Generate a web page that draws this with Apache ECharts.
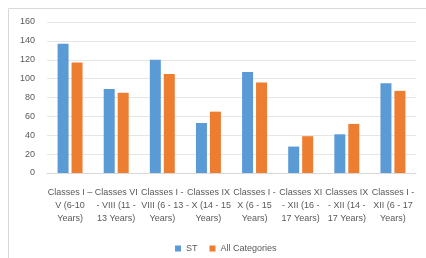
<!DOCTYPE html>
<html><head><meta charset="utf-8">
<script src="https://cdn.jsdelivr.net/npm/echarts@6/dist/echarts.min.js"></script>
<style>html,body{margin:0;padding:0;background:#fff}#c{width:426px;height:258px}</style>
</head><body><div id="c"></div>
<script>
const categories = [
  "Classes I –\nV (6-10\nYears)",
  "Classes VI\n- VIII (11 -\n13 Years)",
  "Classes I -\nVIII (6 - 13\nYears)",
  "Classes IX\n- X (14 - 15\nYears)",
  "Classes I -\nX (6 - 15\nYears)",
  "Classes XI\n- XII (16 -\n17 Years)",
  "Classes IX\n- XII (14 -\n17 Years)",
  "Classes I -\nXII (6 - 17\nYears)"
];
const stValues = [137, 89, 120, 53, 107, 28, 41, 95];
const allValues = [117, 85, 105, 65, 96, 39, 52, 87];
const seriesNames = ["ST", "All Categories"];

const chart = echarts.init(document.getElementById('c'), null, {renderer: 'canvas'});
const font = "Liberation Sans, Arial, sans-serif";
chart.setOption({
  animation: false,
  textStyle: {fontFamily: font},
  graphic: [{type: 'rect', shape: {x: 8.5, y: 8.5, width: 430, height: 260}, style: {fill: 'none', stroke: '#d9d9d9', lineWidth: 1}}],
  grid: {left: 47, right: 10, top: 22, bottom: 85},
  legend: {
    top: 239, left: 170, itemWidth: 6, itemHeight: 6, itemGap: 12,
    icon: 'rect',
    textStyle: {color: '#595959', fontSize: 9, fontFamily: font},
    data: seriesNames
  },
  xAxis: {
    type: 'category', data: categories,
    axisLine: {lineStyle: {color: '#d9d9d9'}},
    axisTick: {show: false},
    axisLabel: {color: '#595959', fontSize: 9, lineHeight: 13, margin: 13, interval: 0, fontFamily: font}
  },
  yAxis: {
    type: 'value', min: 0, max: 160, interval: 20,
    axisLine: {show: false}, axisTick: {show: false},
    splitLine: {lineStyle: {color: '#e6e6e6'}},
    axisLabel: {color: '#595959', fontSize: 9, margin: 12, fontFamily: font}
  },
  series: [
    {name: seriesNames[0], type: 'bar', data: stValues, barWidth: 11, barGap: '27%', itemStyle: {color: '#5B9BD5'}},
    {name: seriesNames[1], type: 'bar', data: allValues, barWidth: 11, itemStyle: {color: '#ED7D31'}}
  ]
});
</script></body></html>
